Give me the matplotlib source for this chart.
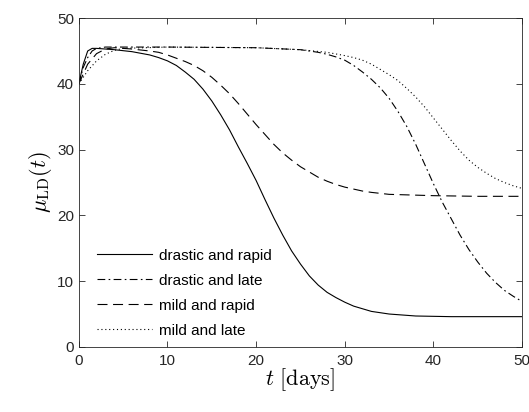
import matplotlib
matplotlib.use("Agg")
import matplotlib.pyplot as plt

plt.rcParams['font.family'] = ['Liberation Sans', 'DejaVu Sans']
plt.rcParams['mathtext.fontset'] = 'cm'

# values
t_drastic_rapid = [0, 0.5, 1, 1.5, 2, 4, 6, 8, 9, 10, 11, 12, 13, 14, 15, 16, 17, 18, 19, 20,
                   21, 22, 23, 24, 25, 26, 27, 28, 29, 30, 31, 32, 33, 35, 38, 42, 50]
mu_drastic_rapid = [40, 43, 45, 45.4, 45.4, 45.2, 44.9, 44.4, 44.0, 43.5, 42.8, 41.8, 40.7, 39.2, 37.4, 35.3, 33.0, 30.4, 27.9, 25.3,
                    22.4, 19.6, 17.0, 14.6, 12.6, 10.8, 9.4, 8.3, 7.5, 6.8, 6.2, 5.8, 5.4, 5.0, 4.7, 4.6, 4.6]

t_drastic_late = [0, 0.5, 1, 1.5, 2, 3, 10, 20, 25, 26, 27, 28, 29, 30, 31, 32, 33, 34, 35, 36, 37,
                  38, 39, 40, 41, 42, 43, 44, 45, 46, 47, 48, 49, 50]
mu_drastic_late = [40, 42.5, 44, 45, 45.4, 45.6, 45.6, 45.5, 45.2, 45.0, 44.8, 44.5, 44.1, 43.6, 42.8, 41.8, 40.7, 39.4, 37.8, 35.8, 33.5,
                   30.8, 27.8, 24.8, 22.0, 19.5, 17.0, 14.8, 12.9, 11.2, 9.8, 8.6, 7.7, 6.9]

t_mild_rapid = [0, 0.5, 1, 2, 3, 4, 6, 8, 9, 10, 11, 12, 13, 14, 15, 16, 17, 18, 19, 20, 21, 22,
                23, 24, 25, 26, 27, 28, 29, 30, 31, 32, 33, 35, 40, 45, 50]
mu_mild_rapid = [40, 41.5, 43, 44.6, 45.3, 45.5, 45.3, 45.0, 44.8, 44.4, 43.9, 43.4, 42.8, 42, 41.0, 39.8, 38.5, 37, 35.4, 33.8, 32.3, 30.8,
                 29.5, 28.4, 27.4, 26.6, 25.8, 25.2, 24.7, 24.3, 24.0, 23.7, 23.5, 23.2, 23.0, 22.9, 22.9]

t_mild_late = [0, 1, 2, 3, 4, 5, 10, 20, 25, 28, 30, 31, 32, 33, 34, 35, 36, 37, 38, 39, 40,
               41, 42, 43, 44, 45, 46, 47, 48, 49, 50]
mu_mild_late = [40, 42, 43.5, 44.5, 45.1, 45.4, 45.6, 45.5, 45.2, 44.8, 44.3, 44.0, 43.6, 43.0, 42.2, 41.4, 40.5, 39.3, 38, 36.5, 34.8,
                33.1, 31.4, 29.8, 28.4, 27.3, 26.4, 25.6, 25, 24.5, 24.1]

fig = plt.figure(figsize=(5.29, 4.12), dpi=100)
ax = fig.add_axes([0.149, 0.158, 0.838, 0.798])

ax.plot(t_drastic_rapid, mu_drastic_rapid, color='k', lw=0.8, ls='-', label='drastic and rapid')
ax.plot(t_drastic_late, mu_drastic_late, color='k', lw=0.8, ls=(0, (7, 3, 1.5, 3)), label='drastic and late')
ax.plot(t_mild_rapid, mu_mild_rapid, color='k', lw=0.8, ls=(0, (9, 5)), label='mild and rapid')
ax.plot(t_mild_late, mu_mild_late, color='k', lw=0.8, ls=(0, (1, 2.5)), label='mild and late')

ax.set_xlim(0, 50)
ax.set_ylim(0, 50)
ax.set_xticks([0, 10, 20, 30, 40, 50])
ax.set_yticks([0, 10, 20, 30, 40, 50])
ax.tick_params(direction='in', top=True, right=True, labelsize=11, length=4, width=0.6, colors='0.15')
ax.tick_params(axis='x', pad=5)
for s in ax.spines.values():
    s.set_linewidth(0.6)
    s.set_color('0.15')

ax.set_xlabel(r'$t\ [\mathrm{days}]$', fontsize=16, labelpad=-1)
ax.set_ylabel(r'$\mu_{\mathrm{LD}}(t)$', fontsize=16, labelpad=2)

ax.legend(loc='lower left', frameon=False, fontsize=11, handlelength=3.6,
          handletextpad=0.5, labelspacing=0.72, borderaxespad=0.2,
          bbox_to_anchor=(0.02, 0.0))

fig.savefig('out.png', dpi=100)
